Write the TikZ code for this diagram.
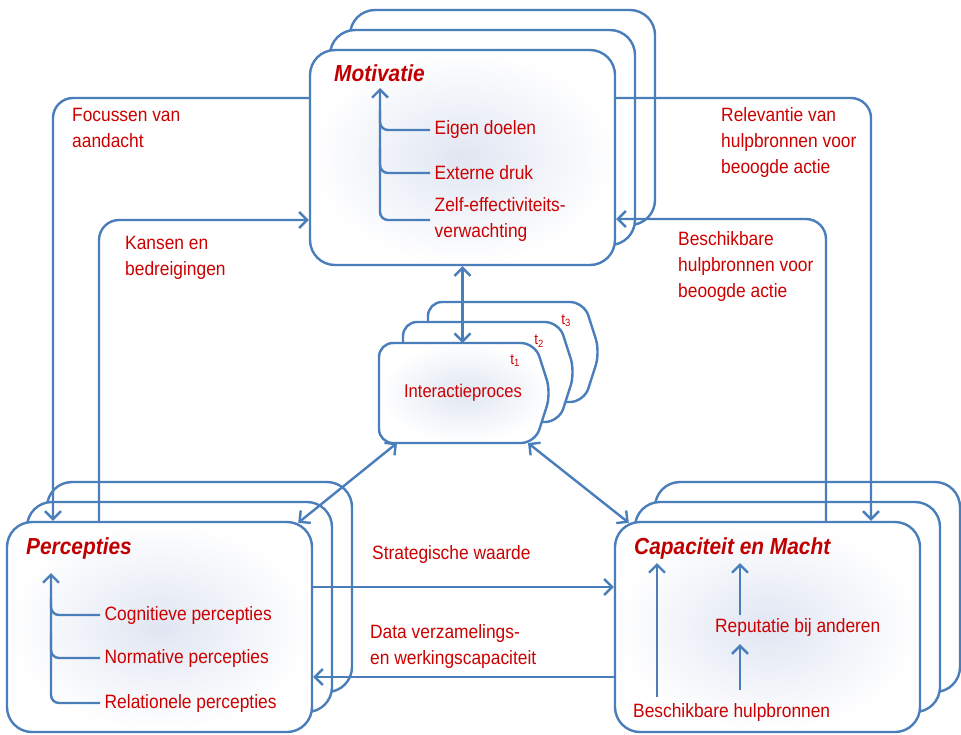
\documentclass[tikz,border=0pt]{standalone}
\usepackage{fontspec}
\setmainfont{Liberation Sans}[FakeStretch=0.9]
\usetikzlibrary{arrows.meta,calc}
\definecolor{lineblue}{RGB}{74,126,187}
\definecolor{txtred}{RGB}{204,0,0}
\definecolor{ttlred}{RGB}{192,0,0}
\definecolor{glow}{RGB}{224,230,242}
\newcommand\lblfont{\fontsize{19.3}{26}\selectfont}
\newcommand\hdfont{\fontsize{23.2}{28}\selectfont\bfseries\itshape}
\newcommand\ipfont{\fontsize{18.4}{22}\selectfont}
\newcommand\tfont{\fontsize{15}{18}\selectfont}

\begin{document}
\begin{tikzpicture}[x=1pt,y=-1pt,
  box/.style={draw=lineblue, line width=2.4pt, rounded corners=25pt, fill=white,
    inner sep=0pt, minimum width=305pt},
  frontbox/.style={box, shading=radial, inner color=glow, outer color=white},
  ipbox/.style={draw=lineblue, line width=2.4pt, rounded corners=14pt, fill=white},
  conn/.style={draw=lineblue, line width=2.4pt, rounded corners=20pt, -{Straight Barb[length=8pt,width=16pt]}},
  biconn/.style={draw=lineblue, line width=2.4pt, {Straight Barb[length=8pt,width=16pt]}-{Straight Barb[length=8pt,width=16pt]}},
  inline/.style={draw=lineblue, line width=2.4pt, rounded corners=8pt},
  inarr/.style={inline, -{Straight Barb[length=8pt,width=16pt]}},
  lbl/.style={text=txtred, font=\lblfont, align=left, anchor=west, inner sep=0pt},
  item/.style={lbl, inner xsep=4.5pt},
  ttl/.style={text=ttlred, font=\hdfont, anchor=west, inner sep=0pt},
  tlbl/.style={text=txtred, font=\tfont, inner sep=0pt}
]
\useasboundingbox (0,0) rectangle (961,734);
\fill[white] (0,0) rectangle (961,734);

% Motivatie stack
\node[box, minimum height=215pt] (mot3) at (502.5,117.5) {};
\node[box, minimum height=215pt] (mot2) at (482.5,137.5) {};
\node[frontbox, minimum height=215pt] (mot) at (462.5,157.5) {};

% Percepties stack
\node[box, minimum height=210pt] (per3) at (199.5,587) {};
\node[box, minimum height=210pt] (per2) at (179.5,607) {};
\node[frontbox, minimum height=210pt] (per) at (159.5,627) {};

% Capaciteit en Macht stack
\node[box, minimum height=210pt] (cap3) at (807.5,587) {};
\node[box, minimum height=210pt] (cap2) at (787.5,607) {};
\node[frontbox, minimum height=210pt] (cap) at (767.5,627) {};

% Interactieproces stack (t3, t2, t1)
\draw[ipbox, shift={(49,-41)}] (379,343) -- (535,343) -- (551,393) -- (535,443) -- (379,443) -- cycle;
\draw[ipbox, shift={(24,-21)}] (379,343) -- (535,343) -- (551,393) -- (535,443) -- (379,443) -- cycle;
\draw[ipbox, shading=radial, inner color=glow, outer color=white]
  (379,343) -- (535,343) -- (551,393) -- (535,443) -- (379,443) -- cycle;
\node[text=txtred, font=\ipfont, inner sep=0pt] (ip) at (463,393) {Interactieproces};
\node[tlbl] (t1) at (515,361) {t\textsubscript{1}};
\node[tlbl] (t2) at (539,341) {t\textsubscript{2}};
\node[tlbl] (t3) at (566,321) {t\textsubscript{3}};
\coordinate (ipN) at (462.5,343);
\coordinate (ipSW) at (397,443);
\coordinate (ipSE) at (528,443);

% Motivatie contents
\node[ttl] (mtt) at (334,73) {Motivatie};
\node[item] (eig) at (430,130) {Eigen doelen};
\node[item] (ext) at (430,173) {Externe druk};
\node[item] (zelf) at (430,220) {Zelf-effectiviteits-\\verwachting};
\coordinate (mtip) at (380,88);
\draw[inarr] (zelf.west) -| (mtip);
\draw[inline] (eig.west) -| ($(mtip)+(0,22)$);
\draw[inline] (ext.west) -| ($(mtip)+(0,60)$);

% Percepties contents
\node[ttl] (ptt) at (26,548) {Percepties};
\node[item] (cog) at (100,615) {Cognitieve percepties};
\node[item] (nor) at (100,658) {Normative percepties};
\node[item] (rel) at (100,703) {Relationele percepties};
\coordinate (ptip) at (51,573);
\draw[inarr] (rel.west) -| (ptip);
\draw[inline] (cog.west) -| ($(ptip)+(0,25)$);
\draw[inline] (nor.west) -| ($(ptip)+(0,60)$);

% Capaciteit contents
\node[ttl] (ctt) at (634,548) {Capaciteit en Macht};
\node[lbl] (rep) at (715,628) {Reputatie bij anderen};
\node[lbl] (bh) at (633,712) {Beschikbare hulpbronnen};
\coordinate (a1) at (657,697);
\coordinate (a2) at (740,615);
\coordinate (a3) at (740,690);
\draw[inarr] (a1) -- ($(a1 |- ctt.south)+(0,4)$);
\draw[inarr] (a2) -- ($(a2 |- ctt.south)+(0,4)$);
\draw[inarr] (a3) -- ($(a3 |- rep.south)+(0,7)$);

% Connectors between the stacks
\draw[conn] (mot.west |- 0,98) -| (per.north -| 53,0);
\draw[conn] (per.north -| 99,0) |- (mot.west |- 0,220);
\draw[conn] (mot.east |- 0,98) -| (cap.north -| 871,0);
\draw[conn] (cap.north -| 826,0) |- (mot.east |- 0,219);
\draw[conn] (per.east |- 0,587) -- (cap.west |- 0,587);
\draw[conn] (cap.west |- 0,677) -- (per.east |- 0,677);
\draw[biconn] (mot.south) -- (ipN);
\draw[biconn] (ipSW) -- ($(per.north east)+(-15,2)$);
\draw[biconn] (ipSE) -- ($(cap.north west)+(15,2)$);

% Connector labels
\node[lbl] (l1) at (72,128) {Focussen van\\aandacht};
\node[lbl] (l2) at (125,258) {Kansen en\\bedreigingen};
\node[lbl] (l3) at (721,143) {Relevantie van\\hulpbronnen voor\\beoogde actie};
\node[lbl] (l4) at (678,267) {Beschikbare\\hulpbronnen voor\\beoogde actie};
\node[lbl] (l5) at (372,555) {Strategische waarde};
\node[lbl] (l6) at (370,646.5) {Data verzamelings-\\en werkingscapaciteit};
\end{tikzpicture}
\end{document}
